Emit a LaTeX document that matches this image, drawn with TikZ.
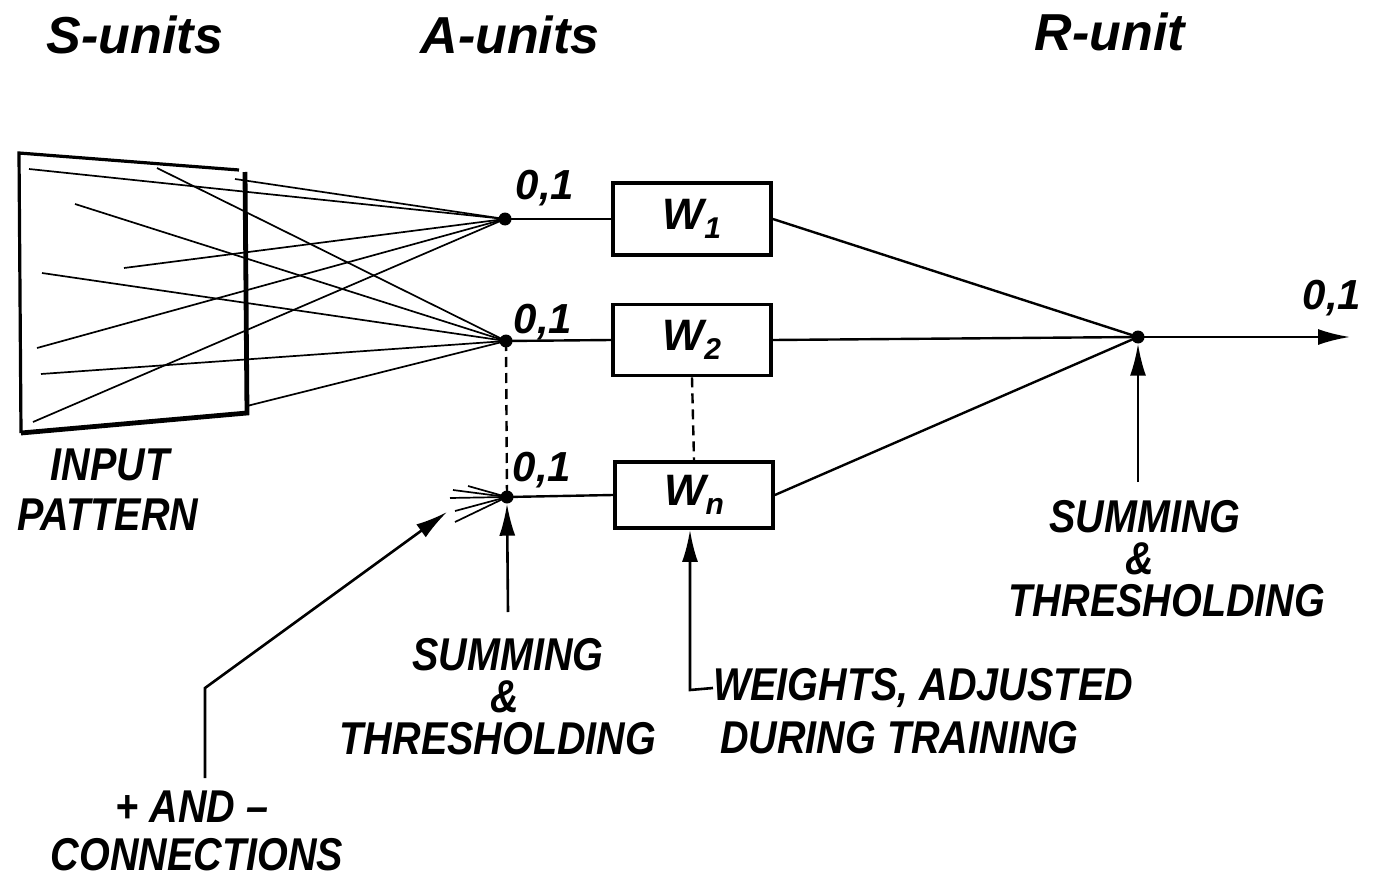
\documentclass[tikz,border=0pt]{standalone}
\usepackage{fontspec}
\newfontfamily\hand{Liberation Sans}[FakeStretch=0.86]
\newfontfamily\handwide{Liberation Sans}
\usetikzlibrary{arrows.meta}
\begin{document}
\begin{tikzpicture}[x=1pt,y=-1pt,
  lbl/.style={font=\hand\bfseries\itshape\fontsize{46}{42}\selectfont, inner sep=0pt},
  hdr/.style={font=\handwide\bfseries\itshape\fontsize{52}{56}\selectfont, inner sep=0pt},
  val/.style={font=\handwide\bfseries\itshape\fontsize{42}{42}\selectfont, inner sep=0pt},
  wlab/.style={font=\handwide\bfseries\itshape\fontsize{44}{44}\selectfont},
  wbox/.style={draw, line width=3.8pt, minimum width=158pt, inner sep=0pt, wlab},
  wire/.style={line width=2.4pt},
  fine/.style={line width=1.7pt},
  dashline/.style={line width=2.4pt, dash pattern=on 10pt off 6pt},
  dot/.style={circle, fill, inner sep=0pt, minimum size=13pt},
  arr/.style={line width=2.6pt, -{Latex[length=32pt,width=16pt]}},
]
\useasboundingbox (0,0) rectangle (1387,880);

% ---- headers
\node[hdr] (hS) at (135,35) {S-units};
\node[hdr] (hA) at (510,35) {A-units};
\node[hdr] (hR) at (1110,32) {R-unit};

% ---- input pattern (retina)
\coordinate (r1) at (19,153);
\coordinate (r2) at (239,170);
\coordinate (r3) at (245,172);
\coordinate (r4) at (247,413);
\coordinate (r5) at (21,433);
\draw[line width=3.2pt] (r2) -- (r1) -- (r5);
\draw[line width=4.8pt] (r5) -- (r4) -- (r3);

% ---- A-unit dots
\node[dot] (a1) at (505,219) {};
\node[dot] (a2) at (506,341) {};
\node[dot] (a3) at (507,497) {};

% ---- S to A connections
\foreach \p in {(29,169),(235,179),(124,268),(37,348),(33,422)}
  \draw[fine] \p -- (a1.center);
\foreach \p in {(157,168),(75,204),(42,273),(41,374),(247,406)}
  \draw[fine] \p -- (a2.center);
\foreach \p in {(468,486),(453,490),(450,498),(455,511),(455,522)}
  \draw[fine] \p -- (a3.center);

% ---- weight boxes
\node[wbox, minimum height=72pt] (w1) at (692,219) {W\raisebox{-9pt}{\fontsize{30}{30}\selectfont 1}};
\node[wbox, minimum height=71pt] (w2) at (692,340) {W\raisebox{-9pt}{\fontsize{30}{30}\selectfont 2}};
\node[wbox, minimum height=66pt] (w3) at (694,495) {W\raisebox{-9pt}{\fontsize{30}{30}\selectfont n}};

\draw[wire] (a1.center) -- (w1.west);
\draw[wire] (a2.center) -- (w2.west);
\draw[wire] (a3.center) -- (w3.west);
\draw[dashline] (a2.center) -- (a3.center);
\draw[dashline] (w2.south) -- (w3.north);

% ---- R unit
\node[dot] (r) at (1138,337) {};
\draw[wire] (w1.east) -- (r.center);
\draw[wire] (w2.east) -- (r.center);
\draw[wire] (w3.east) -- (r.center);
\coordinate (out) at (1350,337);
\draw[arr] (r.center) -- (out);

% ---- values
\node[val] (v1) at (545,188) {0,1};
\node[val] (v2) at (543,322) {0,1};
\node[val] (v3) at (542,470) {0,1};
\node[val] (v4) at (1332,298) {0,1};

% ---- labels
\node[lbl] (ip1) at (110,465) {INPUT};
\node[lbl] (ip2) at (108,515) {PATTERN};

\node[lbl] (s1) at (508,655) {SUMMING};
\node[lbl] (s2) at (505,697) {\&};
\node[lbl] (s3) at (498,739) {THRESHOLDING};

\node[lbl] (t1) at (1145,517) {SUMMING};
\node[lbl] (t2) at (1140,559) {\&};
\node[lbl] (t3) at (1167,601) {THRESHOLDING};

\node[lbl, anchor=west] (g1) at (713,688) {WEIGHTS, ADJUSTED};
\node[lbl, anchor=west] (g2) at (720,738) {DURING TRAINING};

\node[lbl] (c1) at (192,807) {+ AND –};
\node[lbl] (c2) at (197,855) {CONNECTIONS};

% ---- pointer arrows
\coordinate (sA) at (508,612);
\draw[arr] (sA) -- (a3.south);

\coordinate (tA) at (1138,482);
\draw[arr] (tA) -- (r.south);

\coordinate (gk) at (690,690);
\draw[arr] (g1.west) -- (gk) -- (w3.south -| gk);

\coordinate (ck) at (205,688);
\coordinate (ct) at (447,512);
\draw[arr] (205,778) -- (ck) -- (ct);
\end{tikzpicture}
\end{document}
